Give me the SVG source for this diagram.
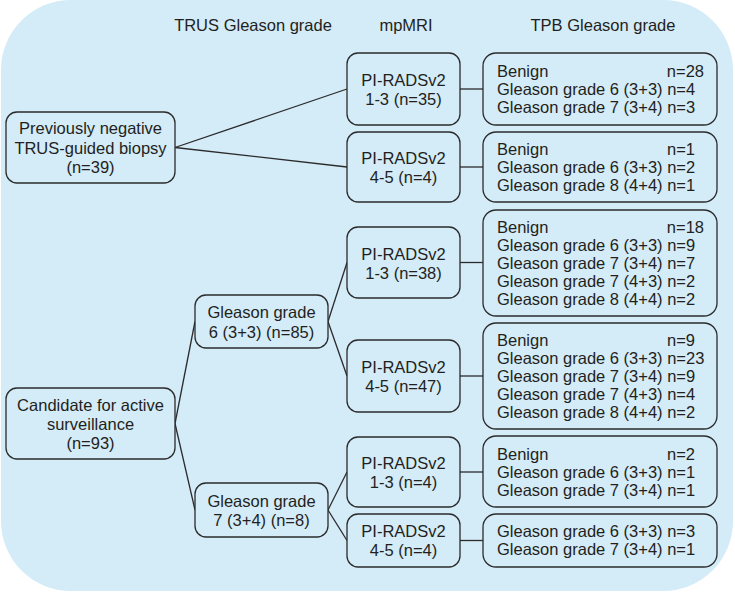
<svg xmlns="http://www.w3.org/2000/svg" width="735" height="594" viewBox="0 0 735 594">
<style>
  .bg { fill: #d4ebf8; }
  .box { fill: #d4ebf8; stroke: #2b2b2b; stroke-width: 1.3; }
  .ln { fill: none; stroke: #2b2b2b; stroke-width: 1.3; }
  text { font-family: "Liberation Sans", Arial, sans-serif; font-size: 16.5px; fill: #231f20; }
  .c { text-anchor: middle; }
  .e { text-anchor: end; }
</style>
<rect class="bg" x="1" y="0" width="732" height="591" rx="70" ry="70"/>

<g id="headers">
  <text class="c" x="253" y="31">TRUS Gleason grade</text>
  <text class="c" x="406" y="31">mpMRI</text>
  <text class="c" x="603" y="31">TPB Gleason grade</text>
</g>

<g id="connectors">
  <line class="ln" x1="175" y1="147.5" x2="347" y2="89"/>
  <line class="ln" x1="175" y1="147.5" x2="347" y2="167"/>
  <line class="ln" x1="175" y1="423.5" x2="195" y2="321.5"/>
  <line class="ln" x1="175" y1="423.5" x2="195" y2="510"/>
  <line class="ln" x1="328" y1="321.5" x2="347" y2="262.5"/>
  <line class="ln" x1="328" y1="321.5" x2="347" y2="376"/>
  <line class="ln" x1="328" y1="510" x2="347" y2="472"/>
  <line class="ln" x1="328" y1="510" x2="347" y2="540.5"/>
  <line class="ln" x1="460" y1="89" x2="483" y2="89"/>
  <line class="ln" x1="460" y1="167" x2="483" y2="167"/>
  <line class="ln" x1="460" y1="262.5" x2="483" y2="262.5"/>
  <line class="ln" x1="460" y1="376" x2="483" y2="376"/>
  <line class="ln" x1="460" y1="472" x2="483" y2="472"/>
  <line class="ln" x1="460" y1="540.5" x2="483" y2="540.5"/>
</g>

<g id="prevneg">
  <rect class="box" x="6" y="112" width="169" height="71" rx="11"/>
  <text class="c" x="90.5" y="134">Previously negative</text>
  <text class="c" x="90.5" y="153.5">TRUS-guided biopsy</text>
  <text class="c" x="90.5" y="173">(n=39)</text>
</g>

<g id="candidate">
  <rect class="box" x="6" y="388" width="169" height="71" rx="11"/>
  <text class="c" x="90.5" y="410.5">Candidate for active</text>
  <text class="c" x="90.5" y="429.5">surveillance</text>
  <text class="c" x="90.5" y="448.5">(n=93)</text>
</g>

<g id="gg6">
  <rect class="box" x="195" y="295" width="133" height="53" rx="11"/>
  <text class="c" x="261.5" y="318">Gleason grade</text>
  <text class="c" x="261.5" y="337.5">6 (3+3) (n=85)</text>
</g>

<g id="gg7">
  <rect class="box" x="195" y="483" width="133" height="54" rx="11"/>
  <text class="c" x="261.5" y="506.5">Gleason grade</text>
  <text class="c" x="261.5" y="526">7 (3+4) (n=8)</text>
</g>

<g id="pr1">
  <rect class="box" x="347" y="53" width="113" height="72" rx="11"/>
  <text class="c" x="403.5" y="86">PI-RADSv2</text>
  <text class="c" x="403.5" y="105">1-3 (n=35)</text>
</g>
<g id="pr2">
  <rect class="box" x="347" y="132" width="113" height="70" rx="11"/>
  <text class="c" x="403.5" y="163.5">PI-RADSv2</text>
  <text class="c" x="403.5" y="182.5">4-5 (n=4)</text>
</g>
<g id="pr3">
  <rect class="box" x="347" y="227" width="113" height="71" rx="11"/>
  <text class="c" x="403.5" y="259.5">PI-RADSv2</text>
  <text class="c" x="403.5" y="278.5">1-3 (n=38)</text>
</g>
<g id="pr4">
  <rect class="box" x="347" y="340" width="113" height="72" rx="11"/>
  <text class="c" x="403.5" y="372.5">PI-RADSv2</text>
  <text class="c" x="403.5" y="391.5">4-5 (n=47)</text>
</g>
<g id="pr5">
  <rect class="box" x="347" y="437" width="113" height="70" rx="11"/>
  <text class="c" x="403.5" y="468.5">PI-RADSv2</text>
  <text class="c" x="403.5" y="487.5">1-3 (n=4)</text>
</g>
<g id="pr6">
  <rect class="box" x="347" y="514" width="113" height="53" rx="11"/>
  <text class="c" x="403.5" y="537">PI-RADSv2</text>
  <text class="c" x="403.5" y="556">4-5 (n=4)</text>
</g>

<g id="tpb1">
  <rect class="box" x="483" y="53" width="234" height="72" rx="13"/>
  <text x="497" y="77">Benign</text><text class="e" x="704" y="77">n=28</text>
  <text x="497" y="95">Gleason grade 6 (3+3) n=4</text>
  <text x="497" y="113">Gleason grade 7 (3+4) n=3</text>
</g>
<g id="tpb2">
  <rect class="box" x="483" y="132" width="234" height="70" rx="13"/>
  <text x="497" y="155">Benign</text><text class="e" x="695" y="155">n=1</text>
  <text x="497" y="173">Gleason grade 6 (3+3) n=2</text>
  <text x="497" y="191">Gleason grade 8 (4+4) n=1</text>
</g>
<g id="tpb3">
  <rect class="box" x="483" y="210" width="234" height="106" rx="13"/>
  <text x="497" y="233">Benign</text><text class="e" x="704" y="233">n=18</text>
  <text x="497" y="251">Gleason grade 6 (3+3) n=9</text>
  <text x="497" y="269">Gleason grade 7 (3+4) n=7</text>
  <text x="497" y="287">Gleason grade 7 (4+3) n=2</text>
  <text x="497" y="305">Gleason grade 8 (4+4) n=2</text>
</g>
<g id="tpb4">
  <rect class="box" x="483" y="323" width="234" height="106" rx="13"/>
  <text x="497" y="346">Benign</text><text class="e" x="695" y="346">n=9</text>
  <text x="497" y="364">Gleason grade 6 (3+3) n=23</text>
  <text x="497" y="382">Gleason grade 7 (3+4) n=9</text>
  <text x="497" y="400">Gleason grade 7 (4+3) n=4</text>
  <text x="497" y="418">Gleason grade 8 (4+4) n=2</text>
</g>
<g id="tpb5">
  <rect class="box" x="483" y="436" width="234" height="71" rx="13"/>
  <text x="497" y="460">Benign</text><text class="e" x="695" y="460">n=2</text>
  <text x="497" y="478">Gleason grade 6 (3+3) n=1</text>
  <text x="497" y="496">Gleason grade 7 (3+4) n=1</text>
</g>
<g id="tpb6">
  <rect class="box" x="483" y="514" width="234" height="53" rx="13"/>
  <text x="497" y="537">Gleason grade 6 (3+3) n=3</text>
  <text x="497" y="555">Gleason grade 7 (3+4) n=1</text>
</g>
</svg>
